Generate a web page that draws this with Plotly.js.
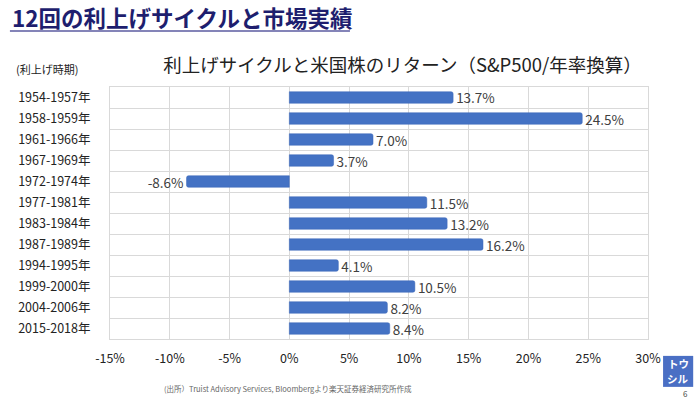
<!DOCTYPE html>
<html>
<head>
<meta charset="utf-8">
<script src="https://cdn.plot.ly/plotly-3.0.1.min.js"></script>
<style>html,body{margin:0;padding:0;background:#fff;}#chart{width:700px;height:399px;}</style>
</head>
<body>
<div id="chart"></div>
<script>
const periods = ["1954-1957年","1958-1959年","1961-1966年","1967-1969年","1972-1974年","1977-1981年","1983-1984年","1987-1989年","1994-1995年","1999-2000年","2004-2006年","2015-2018年"];
const returns = [13.7, 24.5, 7.0, 3.7, -8.6, 11.5, 13.2, 16.2, 4.1, 10.5, 8.2, 8.4];
const xTicks = [-15, -10, -5, 0, 5, 10, 15, 20, 25, 30];
const xTickText = xTicks.map(v => v + "%");
const labels = returns.map(v => v.toFixed(1) + "%");

const font = "'Noto Sans CJK JP', 'Noto Sans', sans-serif";

const trace = {
  type: "bar",
  orientation: "h",
  x: returns,
  y: periods,
  text: labels,
  textposition: "outside",
  constraintext: "none",
  cliponaxis: false,
  textfont: {family: font, size: 13.5, color: "#404040"},
  marker: {color: "#4472C4", line: {color: "#3a66b8", width: 0.5}},
  width: 0.55,
  hoverinfo: "x+y"
};

const layout = {
  width: 700, height: 399,
  margin: {l: 110, r: 52, t: 87, b: 60},
  paper_bgcolor: "#ffffff",
  plot_bgcolor: "#ffffff",
  showlegend: false,
  barcornerradius: 2,
  font: {family: font, color: "#222"},
  title: {
    text: "利上げサイクルと米国株のリターン（S&P500/年率換算）",
    font: {family: font, size: 18.5, color: "#222"},
    x: 0.575, xanchor: "center", y: 0.835, yanchor: "middle"
  },
  xaxis: {
    range: [-15, 30],
    tickvals: xTicks,
    ticktext: xTickText,
    showgrid: true, gridcolor: "#d9d9d9", gridwidth: 1,
    zeroline: true, zerolinecolor: "#d9d9d9", zerolinewidth: 1,
    showline: true, linecolor: "#d9d9d9", mirror: true,
    ticks: "", ticklabelstandoff: 8,
    tickfont: {family: font, size: 12.5, color: "#222"},
    fixedrange: true
  },
  yaxis: {
    type: "category",
    categoryorder: "array",
    categoryarray: periods,
    autorange: "reversed",
    tickson: "boundaries",
    showgrid: true, gridcolor: "#d9d9d9", gridwidth: 1,
    showline: true, linecolor: "#d9d9d9", mirror: true,
    ticks: "", ticklabelstandoff: 16,
    tickfont: {family: font, size: 12.5, color: "#222"},
    fixedrange: true
  },
  shapes: [
    {type: "line", xref: "paper", yref: "paper", x0: -0.186, x1: 0.446, y0: 1.222, y1: 1.222,
     line: {color: "#5b5ba0", width: 1.5}},
    {type: "rect", xref: "paper", yref: "paper", x0: 1.028, x1: 1.084, y0: -0.067, y1: -0.19,
     fillcolor: "#4a6fc4", line: {width: 0}}
  ],
  annotations: [
    {text: "12回の利上げサイクルと市場実績", xref: "paper", yref: "paper", x: -0.186, y: 1.276,
     xanchor: "left", yanchor: "middle", showarrow: false,
     font: {family: font, size: 22.5, color: "#1e1e6e", weight: "bold"}},
    {text: "(利上げ時期)", xref: "paper", yref: "paper", x: -0.178, y: 1.07,
     xanchor: "left", yanchor: "middle", showarrow: false,
     font: {family: font, size: 11, color: "#222"}},
    {text: "(出所）Truist Advisory Services, Bloombergより楽天証券経済研究所作成", xref: "paper", yref: "paper",
     x: 0.33, y: -0.195, xanchor: "center", yanchor: "middle", showarrow: false,
     font: {family: font, size: 7.5, color: "#666"}},
    {text: "トウ", xref: "paper", yref: "paper", x: 1.056, y: -0.098,
     xanchor: "center", yanchor: "middle", showarrow: false,
     font: {family: font, size: 10.5, color: "#ffffff", weight: "bold"}},
    {text: "シル", xref: "paper", yref: "paper", x: 1.056, y: -0.158,
     xanchor: "center", yanchor: "middle", showarrow: false,
     font: {family: font, size: 10.5, color: "#ffffff", weight: "bold"}},
    {text: "6", xref: "paper", yref: "paper", x: 1.07, y: -0.218,
     xanchor: "center", yanchor: "middle", showarrow: false,
     font: {family: font, size: 8, color: "#444"}}
  ]
};

Plotly.newPlot("chart", [trace], layout, {displayModeBar: false, staticPlot: true});
</script>
</body>
</html>
